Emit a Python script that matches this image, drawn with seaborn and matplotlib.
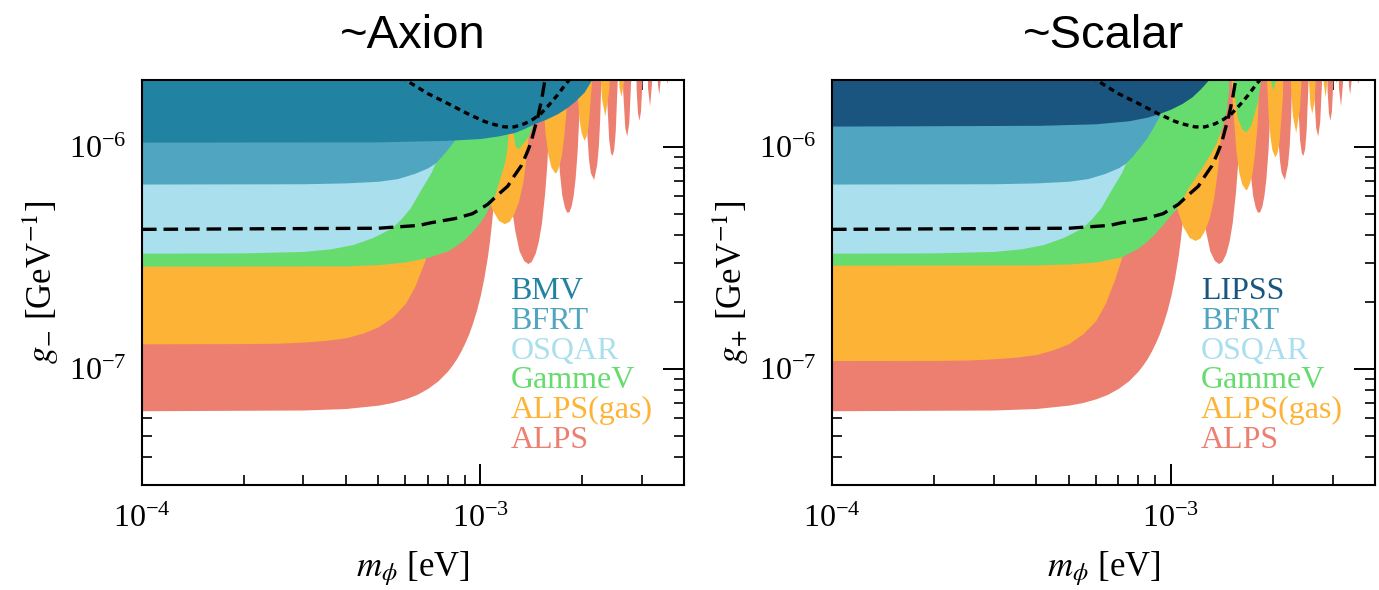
import matplotlib
matplotlib.use("Agg")
import matplotlib.pyplot as plt
import seaborn as sns
import numpy as np
from matplotlib.ticker import LogLocator, NullFormatter

# ---- data: (mass [eV], coupling [GeV^-1]); 1e-5 marks a divergence ----
alps = [
    (1.0e-4, 6.48e-8), (3.0e-4, 6.53e-8), (4.0e-4, 6.63e-8), (5.0e-4, 6.87e-8), (5.5e-4, 7.06e-8),
    (6.0e-4, 7.33e-8), (6.5e-4, 7.68e-8), (7.0e-4, 8.18e-8), (7.5e-4, 8.84e-8), (8.0e-4, 9.77e-8),
    (8.25e-4, 1.038e-7), (8.5e-4, 1.11e-7), (8.75e-4, 1.2e-7), (9.0e-4, 1.31e-7), (9.25e-4, 1.443e-7),
    (9.5e-4, 1.62e-7), (9.75e-4, 1.843e-7), (1.0e-3, 2.146e-7), (1.025e-3, 2.578e-7), (1.05e-3, 3.22e-7),
    (1.065e-3, 3.79e-7), (1.08e-3, 4.59e-7), (1.095e-3, 5.79e-7), (1.11e-3, 7.83e-7), (1.12e-3, 1.007e-6),
    (1.13e-3, 1.416e-6), (1.138e-3, 2.08e-6), (1.145e-3, 3.47e-6), (1.156e-3, 1e-5),
    (1.167e-3, 3.3e-6), (1.179e-3, 1.69e-6), (1.195e-3, 9.99e-7), (1.212e-3, 7.25e-7), (1.239e-3, 5.16e-7),
    (1.266e-3, 4.16e-7), (1.302e-3, 3.40e-7), (1.343e-3, 3.08e-7), (1.382e-3, 2.98e-7), (1.415e-3, 3.05e-7),
    (1.453e-3, 3.32e-7), (1.485e-3, 3.77e-7), (1.516e-3, 4.54e-7), (1.550e-3, 6.23e-7), (1.572e-3, 8.29e-7),
    (1.593e-3, 1.25e-6), (1.610e-3, 2.11e-6), (1.618e-3, 3.18e-6), (1.634e-3, 1e-5),
    (1.651e-3, 3.3e-6), (1.655e-3, 2.67e-6), (1.675e-3, 1.38e-6), (1.695e-3, 9.64e-7), (1.714e-3, 7.62e-7),
    (1.741e-3, 6.08e-7), (1.772e-3, 5.37e-7), (1.798e-3, 5.09e-7), (1.827e-3, 5.09e-7), (1.856e-3, 5.42e-7),
    (1.881e-3, 6.05e-7), (1.906e-3, 7.19e-7), (1.934e-3, 9.7e-7), (1.954e-3, 1.367e-6), (1.968e-3, 1.91e-6),
    (2.002e-3, 1e-5),
    (2.035e-3, 2.04e-6), (2.067e-3, 1.11e-6), (2.090e-3, 8.7e-7), (2.115e-3, 7.65e-7), (2.162e-3, 7.13e-7),
    (2.208e-3, 8.34e-7), (2.232e-3, 1.0e-6), (2.253e-3, 1.32e-6), (2.282e-3, 2.57e-6), (2.311e-3, 1e-5),
    (2.354e-3, 1.86e-6), (2.396e-3, 1.08e-6), (2.425e-3, 9.4e-7), (2.452e-3, 9.16e-7), (2.480e-3, 9.8e-7),
    (2.505e-3, 1.18e-6), (2.545e-3, 2.17e-6), (2.584e-3, 1e-5),
    (2.635e-3, 1.80e-6), (2.673e-3, 1.22e-6), (2.710e-3, 1.12e-6), (2.747e-3, 1.29e-6), (2.783e-3, 2.01e-6),
    (2.831e-3, 1e-5),
    (2.889e-3, 1.80e-6), (2.915e-3, 1.42e-6), (2.946e-3, 1.32e-6), (2.975e-3, 1.45e-6), (3.003e-3, 1.94e-6),
    (3.058e-3, 1e-5),
    (3.122e-3, 1.84e-6), (3.165e-3, 1.53e-6), (3.207e-3, 1.94e-6), (3.269e-3, 1e-5),
    (3.339e-3, 1.91e-6), (3.369e-3, 1.73e-6), (3.399e-3, 1.98e-6), (3.467e-3, 1e-5),
    (3.543e-3, 2.01e-6), (3.562e-3, 1.93e-6), (3.581e-3, 2.05e-6), (3.655e-3, 1e-5),
    (4.0e-3, 1e-5),
]

alps_gas_axion = [
    (1.0e-4, 1.297e-7), (2.0e-4, 1.30e-7), (2.5e-4, 1.305e-7), (3.0e-4, 1.32e-7), (3.5e-4, 1.345e-7),
    (4.0e-4, 1.38e-7), (4.5e-4, 1.45e-7), (5.0e-4, 1.55e-7), (5.5e-4, 1.71e-7), (6.0e-4, 1.97e-7),
    (6.4e-4, 2.35e-7), (6.84e-4, 3.05e-7), (7.2e-4, 3.9e-7), (7.6e-4, 5.2e-7), (8.0e-4, 7.0e-7),
    (8.4e-4, 1.0e-6), (8.7e-4, 1.5e-6), (8.9e-4, 2.4e-6), (9.03e-4, 1e-5),
    (9.32e-4, 2.55e-6), (9.74e-4, 1.10e-6), (1.005e-3, 8.0e-7), (1.040e-3, 6.28e-7), (1.085e-3, 5.2e-7),
    (1.132e-3, 4.66e-7), (1.178e-3, 4.51e-7), (1.217e-3, 4.62e-7), (1.257e-3, 5.0e-7), (1.297e-3, 5.70e-7),
    (1.335e-3, 6.9e-7), (1.372e-3, 9.43e-7), (1.398e-3, 1.3e-6), (1.419e-3, 1.89e-6), (1.465e-3, 1e-5),
    (1.510e-3, 2.09e-6), (1.554e-3, 1.15e-6), (1.585e-3, 9.2e-7), (1.617e-3, 8.12e-7), (1.661e-3, 7.63e-7),
    (1.677e-3, 7.70e-7), (1.706e-3, 8.2e-7), (1.736e-3, 9.16e-7), (1.765e-3, 1.12e-6), (1.793e-3, 1.47e-6),
    (1.829e-3, 2.89e-6), (1.865e-3, 1e-5),
    (1.900e-3, 3.09e-6), (1.935e-3, 1.68e-6), (1.960e-3, 1.32e-6), (1.986e-3, 1.16e-6), (2.026e-3, 1.07e-6),
    (2.055e-3, 1.12e-6), (2.085e-3, 1.26e-6), (2.132e-3, 1.99e-6), (2.193e-3, 1e-5),
    (2.254e-3, 2.2e-6), (2.283e-3, 1.64e-6), (2.334e-3, 1.38e-6), (2.396e-3, 1.79e-6), (2.424e-3, 2.51e-6),
    (2.479e-3, 1e-5),
    (2.532e-3, 2.72e-6), (2.571e-3, 1.85e-6), (2.605e-3, 1.69e-6), (2.648e-3, 1.95e-6), (2.685e-3, 3.04e-6),
    (2.734e-3, 1e-5),
    (4.0e-3, 1e-5),
]

alps_gas_scalar = [
    (1.0e-4, 1.09e-7), (2.0e-4, 1.092e-7), (2.5e-4, 1.096e-7), (3.0e-4, 1.11e-7), (3.5e-4, 1.13e-7),
    (4.0e-4, 1.16e-7), (4.5e-4, 1.22e-7), (5.0e-4, 1.30e-7), (5.5e-4, 1.44e-7), (6.0e-4, 1.65e-7),
    (6.4e-4, 1.97e-7), (6.84e-4, 2.56e-7), (7.2e-4, 3.28e-7), (7.6e-4, 4.37e-7), (8.0e-4, 5.88e-7),
    (8.4e-4, 8.4e-7), (8.7e-4, 1.26e-6), (8.9e-4, 2.0e-6), (9.03e-4, 1e-5),
    (9.32e-4, 2.14e-6), (9.74e-4, 9.2e-7), (1.005e-3, 6.7e-7), (1.040e-3, 5.28e-7), (1.085e-3, 4.37e-7),
    (1.132e-3, 3.91e-7), (1.178e-3, 3.79e-7), (1.217e-3, 3.88e-7), (1.257e-3, 4.2e-7), (1.297e-3, 4.79e-7),
    (1.335e-3, 5.8e-7), (1.372e-3, 7.92e-7), (1.398e-3, 1.09e-6), (1.419e-3, 1.59e-6), (1.465e-3, 1e-5),
    (1.510e-3, 1.76e-6), (1.554e-3, 9.7e-7), (1.585e-3, 7.7e-7), (1.617e-3, 6.82e-7), (1.661e-3, 6.41e-7),
    (1.677e-3, 6.47e-7), (1.706e-3, 6.9e-7), (1.736e-3, 7.69e-7), (1.765e-3, 9.4e-7), (1.793e-3, 1.23e-6),
    (1.829e-3, 2.43e-6), (1.865e-3, 1e-5),
    (1.900e-3, 2.6e-6), (1.935e-3, 1.41e-6), (1.960e-3, 1.11e-6), (1.986e-3, 9.7e-7), (2.026e-3, 9.0e-7),
    (2.055e-3, 9.4e-7), (2.085e-3, 1.06e-6), (2.132e-3, 1.67e-6), (2.193e-3, 1e-5),
    (2.254e-3, 1.85e-6), (2.283e-3, 1.38e-6), (2.334e-3, 1.16e-6), (2.396e-3, 1.50e-6), (2.424e-3, 2.11e-6),
    (2.479e-3, 1e-5),
    (2.532e-3, 2.28e-6), (2.571e-3, 1.55e-6), (2.605e-3, 1.42e-6), (2.648e-3, 1.64e-6), (2.685e-3, 2.55e-6),
    (2.734e-3, 1e-5),
    (2.806e-3, 2.01e-6), (2.850e-3, 1.68e-6), (2.900e-3, 2.14e-6), (2.968e-3, 1e-5),
    (3.056e-3, 2.01e-6), (3.075e-3, 1.94e-6), (3.099e-3, 2.07e-6), (3.184e-3, 1e-5),
    (4.0e-3, 1e-5),
]

gammev_axion = [
    (1.0e-4, 2.9e-7), (4.0e-4, 2.91e-7), (5.0e-4, 2.95e-7), (6.0e-4, 3.03e-7), (7.0e-4, 3.18e-7),
    (8.0e-4, 3.4e-7), (8.5e-4, 3.6e-7), (9.0e-4, 3.85e-7), (9.6e-4, 4.25e-7), (1.0e-3, 4.6e-7),
    (1.03e-3, 4.92e-7), (1.056e-3, 5.3e-7), (1.08e-3, 5.65e-7), (1.1e-3, 6.0e-7), (1.124e-3, 6.7e-7),
    (1.16e-3, 7.8e-7), (1.18e-3, 8.6e-7), (1.194e-3, 9.4e-7), (1.205e-3, 1.08e-6), (1.212e-3, 1.3e-6),
    (1.22e-3, 2.0e-6), (1.225e-3, 1e-5),
    (1.235e-3, 1.6e-6), (1.25e-3, 1.15e-6), (1.265e-3, 1.02e-6), (1.283e-3, 9.8e-7), (1.30e-3, 9.9e-7),
    (1.33e-3, 1.03e-6), (1.37e-3, 1.09e-6), (1.40e-3, 1.15e-6), (1.44e-3, 1.35e-6), (1.48e-3, 1.8e-6),
    (1.50e-3, 2.5e-6), (1.52e-3, 1e-5), (4.0e-3, 1e-5),
]

gammev_scalar = [
    (1.0e-4, 2.93e-7), (4.0e-4, 2.94e-7), (5.0e-4, 2.97e-7), (6.0e-4, 3.03e-7), (7.16e-4, 3.2e-7),
    (8.0e-4, 3.5e-7), (8.5e-4, 3.76e-7), (9.0e-4, 4.1e-7), (9.5e-4, 4.5e-7), (1.0e-3, 4.95e-7),
    (1.03e-3, 5.2e-7), (1.08e-3, 5.85e-7), (1.128e-3, 6.6e-7), (1.18e-3, 7.3e-7), (1.236e-3, 8.1e-7),
    (1.3e-3, 9.2e-7), (1.354e-3, 1.03e-6), (1.40e-3, 1.17e-6), (1.434e-3, 1.32e-6), (1.46e-3, 1.5e-6),
    (1.48e-3, 1.8e-6), (1.50e-3, 1e-5),
    (1.53e-3, 1.8e-6), (1.57e-3, 1.35e-6), (1.62e-3, 1.2e-6), (1.663e-3, 1.17e-6), (1.72e-3, 1.25e-6),
    (1.80e-3, 1.6e-6), (1.86e-3, 2.2e-6), (1.90e-3, 1e-5),
    (1.95e-3, 2.1e-6), (2.0e-3, 1.8e-6), (2.05e-3, 2.1e-6), (2.10e-3, 1e-5), (4.0e-3, 1e-5),
]

osqar = [
    (1.0e-4, 3.32e-7), (2.0e-4, 3.33e-7), (3.0e-4, 3.38e-7), (3.6e-4, 3.47e-7), (4.2e-4, 3.63e-7),
    (4.8e-4, 3.9e-7), (5.45e-4, 4.3e-7), (5.8e-4, 4.7e-7), (6.2e-4, 5.3e-7), (6.66e-4, 6.4e-7),
    (6.9e-4, 7.0e-7), (7.16e-4, 7.7e-7), (7.35e-4, 8.45e-7), (7.6e-4, 9.4e-7), (7.8e-4, 1.05e-6),
    (8.2e-4, 1.4e-6), (8.6e-4, 2.2e-6), (8.9e-4, 1e-5), (4.0e-3, 1e-5),
]

bfrt = [
    (1.0e-4, 6.8e-7), (3.0e-4, 6.82e-7), (4.0e-4, 6.88e-7), (5.0e-4, 7.0e-7), (5.7e-4, 7.2e-7),
    (6.4e-4, 7.6e-7), (7.0e-4, 8.05e-7), (7.35e-4, 8.45e-7), (7.7e-4, 9.1e-7), (8.1e-4, 1.0e-6),
    (8.5e-4, 1.1e-6), (8.9e-4, 1.24e-6), (9.25e-4, 1.38e-6), (9.6e-4, 1.6e-6), (1.0e-3, 2.1e-6),
    (1.05e-3, 1e-5), (4.0e-3, 1e-5),
]

bmv = [
    (1.0e-4, 1.05e-6), (5.0e-4, 1.053e-6), (8.0e-4, 1.07e-6), (1.0e-3, 1.09e-6), (1.13e-3, 1.12e-6),
    (1.26e-3, 1.16e-6), (1.35e-3, 1.21e-6), (1.44e-3, 1.27e-6), (1.56e-3, 1.33e-6), (1.69e-3, 1.41e-6),
    (1.8e-3, 1.5e-6), (1.9e-3, 1.6e-6), (2.03e-3, 1.77e-6), (2.13e-3, 2.0e-6),
    (2.2e-3, 2.5e-6), (2.3e-3, 1e-5), (4.0e-3, 1e-5),
]

lipss = [
    (1.0e-4, 1.24e-6), (4.1e-4, 1.25e-6), (6.0e-4, 1.27e-6), (7.5e-4, 1.31e-6), (8.5e-4, 1.36e-6),
    (9.2e-4, 1.41e-6), (1.0e-3, 1.48e-6), (1.08e-3, 1.57e-6), (1.154e-3, 1.68e-6), (1.22e-3, 1.82e-6),
    (1.29e-3, 2.0e-6), (1.33e-3, 2.3e-6), (1.38e-3, 1e-5), (4.0e-3, 1e-5),
]

dashed_curve = [
    (1.0e-4, 4.25e-7), (5.0e-4, 4.3e-7), (6.6e-4, 4.43e-7), (7.14e-4, 4.55e-7), (8.4e-4, 4.75e-7),
    (9.48e-4, 5.0e-7), (1.05e-3, 5.5e-7), (1.13e-3, 6.1e-7), (1.205e-3, 6.65e-7), (1.26e-3, 7.4e-7),
    (1.32e-3, 8.2e-7), (1.37e-3, 9.3e-7), (1.41e-3, 1.04e-6), (1.45e-3, 1.22e-6), (1.48e-3, 1.37e-6),
    (1.52e-3, 1.65e-6), (1.55e-3, 1.97e-6), (1.57e-3, 2.3e-6),
]

dotted_curve = [
    (5.9e-4, 2.1e-6), (6.02e-4, 2.0e-6), (6.98e-4, 1.74e-6), (8.0e-4, 1.57e-6), (9.17e-4, 1.41e-6),
    (1.03e-3, 1.30e-6), (1.1e-3, 1.26e-6), (1.178e-3, 1.23e-6), (1.26e-3, 1.23e-6), (1.35e-3, 1.27e-6),
    (1.43e-3, 1.33e-6), (1.51e-3, 1.41e-6), (1.6e-3, 1.55e-6), (1.69e-3, 1.71e-6), (1.78e-3, 1.9e-6),
    (1.83e-3, 2.0e-6), (1.86e-3, 2.1e-6),
]

colors = {
    "BMV": "#2183a1",
    "LIPSS": "#1a5580",
    "BFRT": "#50a6c0",
    "OSQAR": "#aadfee",
    "GammeV": "#66dc6e",
    "ALPS(gas)": "#fdb336",
    "ALPS": "#ec7f70",
}

panels = [
    ("~Axion", r"$g_{-}$ [GeV$^{-1}$]",
     [("ALPS", alps), ("ALPS(gas)", alps_gas_axion), ("GammeV", gammev_axion),
      ("OSQAR", osqar), ("BFRT", bfrt), ("BMV", bmv)]),
    ("~Scalar", r"$g_{+}$ [GeV$^{-1}$]",
     [("ALPS", alps), ("ALPS(gas)", alps_gas_scalar), ("GammeV", gammev_scalar),
      ("OSQAR", osqar), ("BFRT", bfrt), ("LIPSS", lipss)]),
]

# ---- style ----
sns.set_style("ticks")
plt.rcParams.update({
    "font.family": ["Liberation Serif", "DejaVu Serif"],
    "mathtext.fontset": "stix",
    "axes.linewidth": 1.5,
    "axes.edgecolor": "black",
    "axes.labelcolor": "black",
    "text.color": "black",
    "xtick.color": "black",
    "ytick.color": "black",
    "lines.scale_dashes": False,
})

fig = plt.figure(figsize=(13.79, 5.9), dpi=100)
W, H = 1379, 590
axes = [fig.add_axes([142 / W, 105 / H, 542 / W, 405 / H]),
        fig.add_axes([832 / W, 105 / H, 543 / W, 405 / H])]

for ax, (title, ylabel, layers) in zip(axes, panels):
    for name, pts in layers:
        m, g = np.array(pts).T
        ax.fill_between(m, g, 1e-5, color=colors[name], lw=0)

    for pts, dashes in [(dashed_curve, (10.5, 5.0)), (dotted_curve, (4.2, 3.2))]:
        m, g = np.array(pts).T
        sns.lineplot(x=m, y=g, ax=ax, color="black", lw=2.4, sort=False, estimator=None)
        ax.lines[-1].set_dashes(dashes)

    ax.set_xscale("log")
    ax.set_yscale("log")
    ax.set_xlim(1e-4, 4e-3)
    ax.set_ylim(3e-8, 2e-6)
    ax.xaxis.set_minor_locator(LogLocator(subs=np.arange(2, 10)))
    ax.yaxis.set_minor_locator(LogLocator(subs=np.arange(2, 10)))
    ax.xaxis.set_minor_formatter(NullFormatter())
    ax.yaxis.set_minor_formatter(NullFormatter())
    ax.tick_params(which="both", direction="in", top=True, right=True, labelsize=23)
    ax.tick_params(which="major", length=15, width=1.4)
    ax.tick_params(which="minor", length=7.5, width=1.2)
    ax.tick_params(axis="x", which="major", pad=14)
    ax.tick_params(axis="y", which="major", pad=11)
    for s in ax.spines.values():
        s.set_visible(True)

    ax.set_title(title, fontsize=34, family=["Liberation Sans", "DejaVu Sans"], pad=23)
    ax.set_xlabel(r"$m_{\phi}$ [eV]", fontsize=25, labelpad=11)
    ax.set_ylabel(ylabel, fontsize=25, labelpad=6)

    names = [n for n, _ in layers][::-1]
    for i, name in enumerate(names):
        ax.text(0.68, 0.459 - i * 0.0735, name, transform=ax.transAxes, color=colors[name],
                fontsize=23, va="baseline", ha="left")

fig.savefig("out.png", dpi=100)
